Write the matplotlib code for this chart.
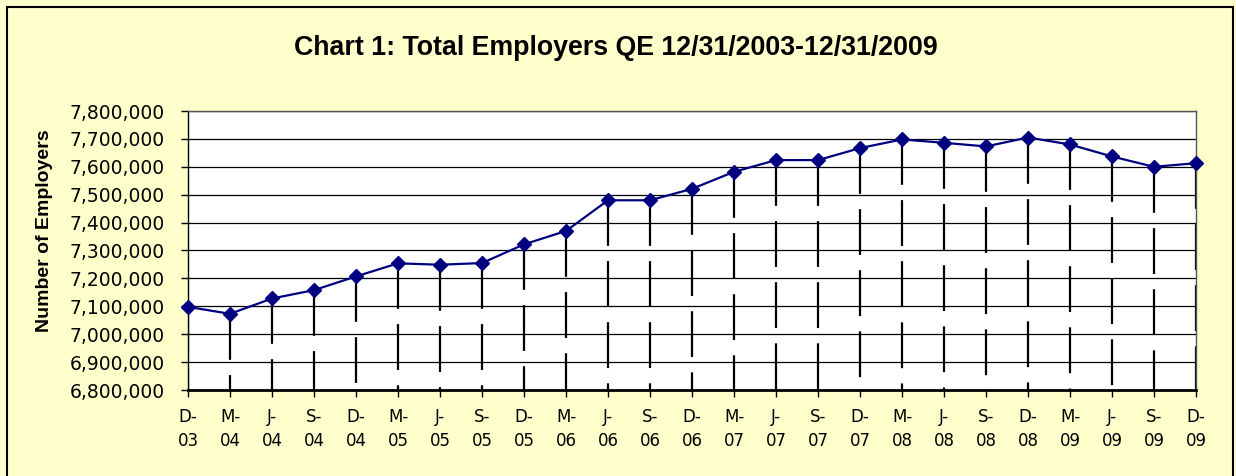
import matplotlib
matplotlib.use("Agg")
import matplotlib.pyplot as plt
from matplotlib.patches import Rectangle
from matplotlib.ticker import FuncFormatter, MultipleLocator

quarters = ["D-\n03", "M-\n04", "J-\n04", "S-\n04", "D-\n04", "M-\n05", "J-\n05", "S-\n05",
            "D-\n05", "M-\n06", "J-\n06", "S-\n06", "D-\n06", "M-\n07", "J-\n07", "S-\n07",
            "D-\n07", "M-\n08", "J-\n08", "S-\n08", "D-\n08", "M-\n09", "J-\n09", "S-\n09",
            "D-\n09"]
employers = [7098000, 7073000, 7128000, 7158000, 7207000, 7254000, 7249000, 7255000,
             7322000, 7370000, 7480000, 7480000, 7521000, 7582000, 7624000, 7624000,
             7667000, 7698000, 7686000, 7673000, 7705000, 7680000, 7637000, 7600000,
             7613000]

plt.rcParams["font.family"] = ["Liberation Sans", "DejaVu Sans"]
plt.rcParams["lines.scale_dashes"] = False
BG = "#FFFFCC"
NAVY = "#000080"

fig = plt.figure(figsize=(12.36, 4.76), dpi=100, facecolor=BG)
fig.patches.append(Rectangle((7 / 1236, -0.02), 1226 / 1236, 1 - 7 / 476 + 0.02,
                             transform=fig.transFigure, fill=False, ec="black", lw=1.5))
ax = fig.add_axes([188 / 1236, 1 - 390 / 476, (1196 - 188) / 1236, (390 - 111) / 476])
ax.set_facecolor("white")

x = list(range(len(employers)))
ymin, ymax = 6800000, 7800000

# drop lines, dashed from the point downward
for xi, v in zip(x, employers):
    ax.plot([xi, xi], [v, ymin], color="black", lw=1.6, ls=(0, (33, 11)), zorder=2)

ax.plot(x, employers, color=NAVY, lw=1.6, marker="D", ms=7.5, mfc=NAVY, mec=NAVY,
        zorder=4, clip_on=False)

ax.set_xlim(0, len(employers) - 1)
ax.set_ylim(ymin, ymax)
ax.yaxis.set_major_locator(MultipleLocator(100000))
ax.yaxis.set_major_formatter(FuncFormatter(lambda v, p: f"{int(v):,}"))
ax.grid(axis="y", color="black", lw=0.9, zorder=1)
ax.set_axisbelow(True)
ax.set_xticks(x)
ax.set_xticklabels(quarters, linespacing=1.45)

ax.tick_params(axis="y", labelsize=13.5, length=5, width=1, pad=12, direction="out",
               labelfontfamily="DejaVu Sans")
ax.tick_params(axis="x", labelsize=12, length=5, width=1, pad=8, direction="out",
               labelfontfamily="DejaVu Sans")
for s in ["top", "right"]:
    ax.spines[s].set_color("#555555")
    ax.spines[s].set_linewidth(1)
ax.spines["left"].set_linewidth(1)
ax.spines["bottom"].set_linewidth(2)

fig.text(45 / 1236, 1 - 231 / 476, "Number of Employers", rotation=90,
         ha="center", va="center", fontsize=14, fontweight="bold")
fig.text(616 / 1236, 1 - 48 / 476, "Chart 1: Total Employers QE 12/31/2003-12/31/2009",
         ha="center", va="center", fontsize=19.3, fontweight="bold")

fig.savefig("out.png", dpi=100, facecolor=BG)
